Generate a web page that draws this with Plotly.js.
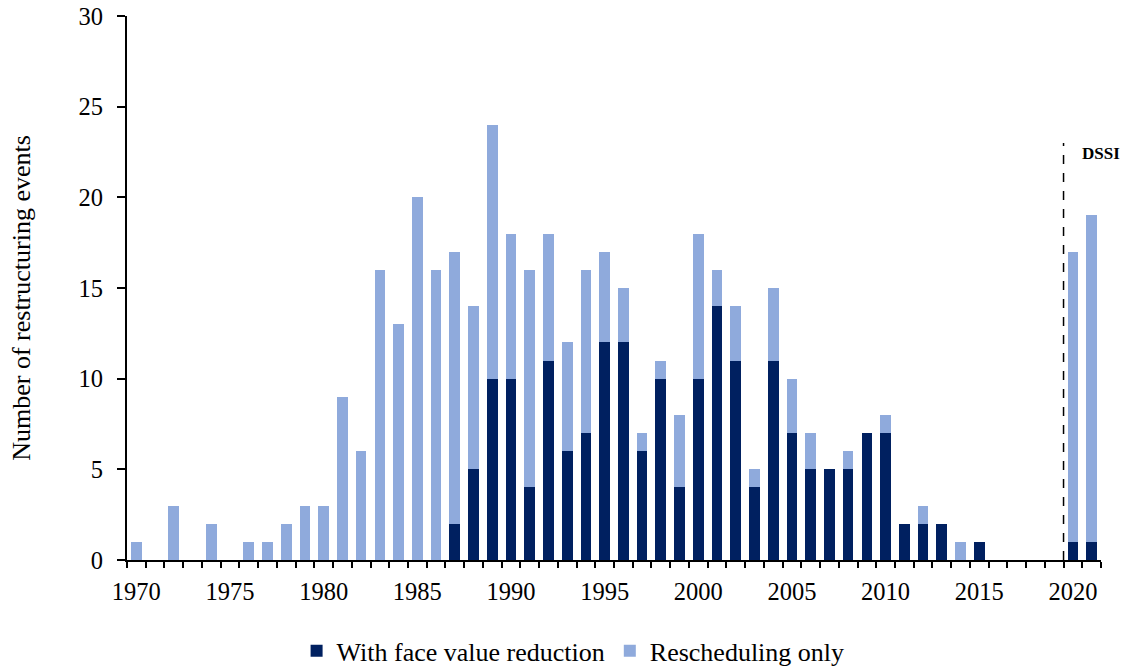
<!DOCTYPE html>
<html>
<head>
<meta charset="utf-8">
<script src="https://cdn.plot.ly/plotly-3.0.1.min.js"></script>
<style>html,body{margin:0;padding:0;background:#fff;}#chart{width:1124px;height:666px;}</style>
</head>
<body>
<div id="chart"></div>
<script>
const years = [1970,1971,1972,1973,1974,1975,1976,1977,1978,1979,1980,1981,1982,1983,1984,1985,1986,1987,1988,1989,1990,1991,1992,1993,1994,1995,1996,1997,1998,1999,2000,2001,2002,2003,2004,2005,2006,2007,2008,2009,2010,2011,2012,2013,2014,2015,2016,2017,2018,2019,2020,2021];
const faceValueReduction = [0,0,0,0,0,0,0,0,0,0,0,0,0,0,0,0,0,2,5,10,10,4,11,6,7,12,12,6,10,4,10,14,11,4,11,7,5,5,5,7,7,2,2,2,0,1,0,0,0,0,1,1];
const reschedulingOnly = [1,0,3,0,2,0,1,1,2,3,3,9,6,16,13,20,16,15,9,14,8,12,7,6,9,5,3,1,1,4,8,2,3,1,4,3,2,0,1,0,1,0,1,0,1,0,0,0,0,0,16,18];
const labelYears = [1970,1975,1980,1985,1990,1995,2000,2005,2010,2015,2020];
const seriesNames = ["With face value reduction","Rescheduling only"];
const yTitle = "Number of restructuring events";
const dssiYear = 2019.5;

const font = "Liberation Serif, Times New Roman, serif";
const traces = [
  {type:"bar", x:years, y:faceValueReduction, name:seriesNames[0], marker:{color:"#002060"}, xaxis:"x", yaxis:"y"},
  {type:"bar", x:years, y:reschedulingOnly, name:seriesNames[1], marker:{color:"#8FAADC"}, xaxis:"x", yaxis:"y"},
  {type:"scatter", x:[1970], y:[0], xaxis:"x2", yaxis:"y", mode:"markers", marker:{opacity:0}, showlegend:false, hoverinfo:"skip"}
];
const layout = {
  width:1124, height:666,
  margin:{l:127, r:23, t:16, b:106, autoexpand:false},
  paper_bgcolor:"#fff", plot_bgcolor:"#fff",
  barmode:"stack", bargap:0.43,
  font:{family:font, size:24, color:"#000"},
  xaxis:{range:[1969.5,2021.5], tickmode:"linear", tick0:1969.5, dtick:1, ticks:"outside", ticklen:6, tickwidth:2, tickcolor:"#000",
         showticklabels:false, showline:true, linecolor:"#000", linewidth:2, showgrid:false, zeroline:false, fixedrange:true},
  xaxis2:{overlaying:"x", matches:"x", anchor:"y", side:"bottom", range:[1969.5,2021.5], tickmode:"array", tickvals:labelYears, ticktext:labelYears.map(String),
          ticks:"", showline:false, showgrid:false, zeroline:false, tickfont:{family:font, size:24.5, color:"#000"}, ticklabelstandoff:14},
  yaxis:{range:[0,30], tickmode:"linear", tick0:0, dtick:5, ticks:"outside", ticklen:8, tickwidth:2, tickcolor:"#000",
         showline:true, linecolor:"#000", linewidth:2, showgrid:false, zeroline:false, tickfont:{family:font, size:24.5, color:"#000"},
         ticklabelstandoff:9},
  legend:{orientation:"h", x:0.458, xanchor:"center", y:-0.167, yanchor:"middle", font:{family:font, size:26, color:"#000"}, itemwidth:30, traceorder:"normal"},
  shapes:[{type:"line", xref:"x", yref:"y", x0:dssiYear, x1:dssiYear, y0:0, y1:23, line:{color:"#000", width:1.5, dash:"dash"}}],
  annotations:[
    {xref:"x", yref:"y", x:2020.4, y:22.4, xanchor:"left", yanchor:"middle", text:"<b>DSSI</b>", showarrow:false, font:{family:font, size:17, color:"#000"}},
    {xref:"paper", yref:"paper", x:-0.1078, y:0.482, xanchor:"center", yanchor:"middle", textangle:-90, text:yTitle, showarrow:false, font:{family:font, size:26, color:"#000"}}
  ]
};
Plotly.newPlot("chart", traces, layout, {displayModeBar:false, staticPlot:true});
</script>
</body>
</html>
